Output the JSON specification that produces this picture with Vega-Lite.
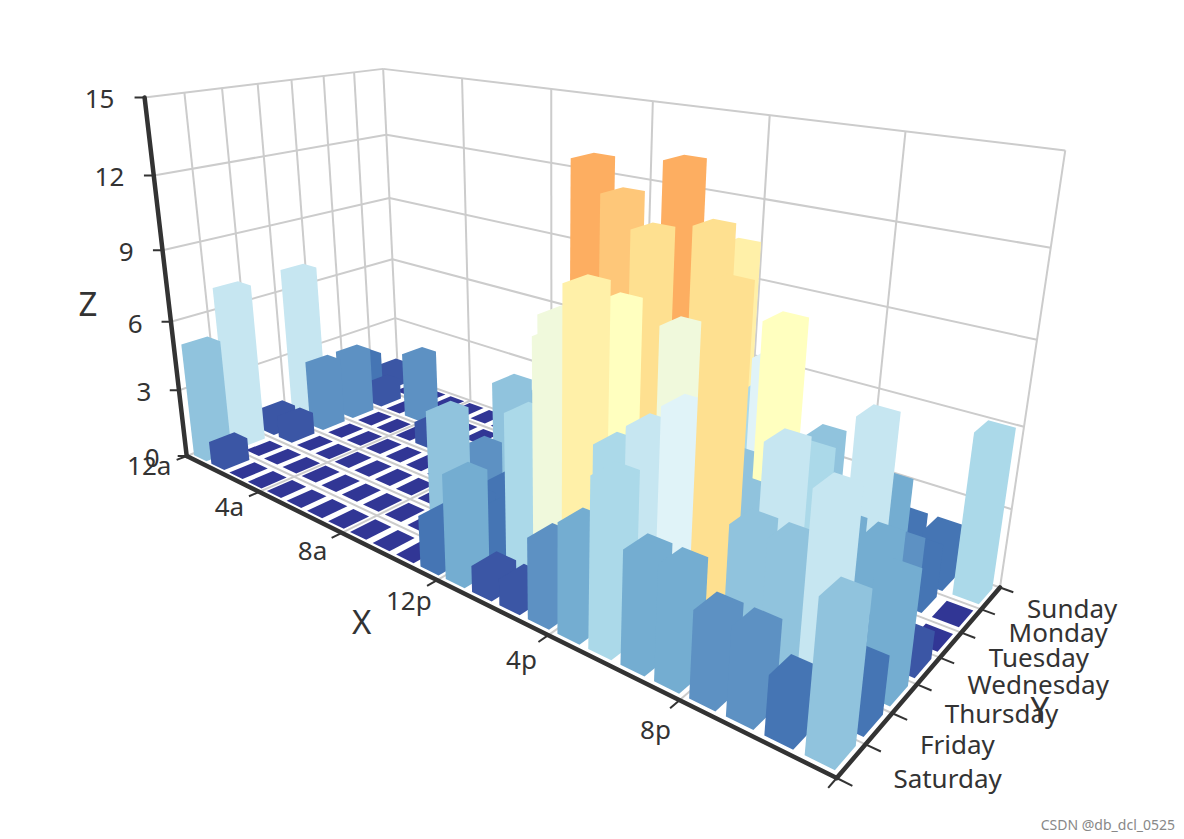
{"$schema":"https://vega.github.io/schema/vega-lite/v6.json","width":1184,"height":839,"padding":0,"autosize":{"type":"none"},"background":"white","config":{"view":{"stroke":null}},"datasets":{"punch":[{"hour":"12a","hourIndex":0,"day":"Sunday","dayIndex":6,"value":1},{"hour":"1a","hourIndex":1,"day":"Sunday","dayIndex":6,"value":0},{"hour":"2a","hourIndex":2,"day":"Sunday","dayIndex":6,"value":0},{"hour":"3a","hourIndex":3,"day":"Sunday","dayIndex":6,"value":0},{"hour":"4a","hourIndex":4,"day":"Sunday","dayIndex":6,"value":0},{"hour":"5a","hourIndex":5,"day":"Sunday","dayIndex":6,"value":0},{"hour":"6a","hourIndex":6,"day":"Sunday","dayIndex":6,"value":0},{"hour":"7a","hourIndex":7,"day":"Sunday","dayIndex":6,"value":0},{"hour":"8a","hourIndex":8,"day":"Sunday","dayIndex":6,"value":0},{"hour":"9a","hourIndex":9,"day":"Sunday","dayIndex":6,"value":0},{"hour":"10a","hourIndex":10,"day":"Sunday","dayIndex":6,"value":1},{"hour":"11a","hourIndex":11,"day":"Sunday","dayIndex":6,"value":0},{"hour":"12p","hourIndex":12,"day":"Sunday","dayIndex":6,"value":2},{"hour":"1p","hourIndex":13,"day":"Sunday","dayIndex":6,"value":1},{"hour":"2p","hourIndex":14,"day":"Sunday","dayIndex":6,"value":3},{"hour":"3p","hourIndex":15,"day":"Sunday","dayIndex":6,"value":4},{"hour":"4p","hourIndex":16,"day":"Sunday","dayIndex":6,"value":0},{"hour":"5p","hourIndex":17,"day":"Sunday","dayIndex":6,"value":0},{"hour":"6p","hourIndex":18,"day":"Sunday","dayIndex":6,"value":0},{"hour":"7p","hourIndex":19,"day":"Sunday","dayIndex":6,"value":0},{"hour":"8p","hourIndex":20,"day":"Sunday","dayIndex":6,"value":1},{"hour":"9p","hourIndex":21,"day":"Sunday","dayIndex":6,"value":2},{"hour":"10p","hourIndex":22,"day":"Sunday","dayIndex":6,"value":2},{"hour":"11p","hourIndex":23,"day":"Sunday","dayIndex":6,"value":6},{"hour":"12a","hourIndex":0,"day":"Monday","dayIndex":5,"value":2},{"hour":"1a","hourIndex":1,"day":"Monday","dayIndex":5,"value":1},{"hour":"2a","hourIndex":2,"day":"Monday","dayIndex":5,"value":0},{"hour":"3a","hourIndex":3,"day":"Monday","dayIndex":5,"value":3},{"hour":"4a","hourIndex":4,"day":"Monday","dayIndex":5,"value":0},{"hour":"5a","hourIndex":5,"day":"Monday","dayIndex":5,"value":0},{"hour":"6a","hourIndex":6,"day":"Monday","dayIndex":5,"value":0},{"hour":"7a","hourIndex":7,"day":"Monday","dayIndex":5,"value":0},{"hour":"8a","hourIndex":8,"day":"Monday","dayIndex":5,"value":2},{"hour":"9a","hourIndex":9,"day":"Monday","dayIndex":5,"value":0},{"hour":"10a","hourIndex":10,"day":"Monday","dayIndex":5,"value":4},{"hour":"11a","hourIndex":11,"day":"Monday","dayIndex":5,"value":1},{"hour":"12p","hourIndex":12,"day":"Monday","dayIndex":5,"value":5},{"hour":"1p","hourIndex":13,"day":"Monday","dayIndex":5,"value":10},{"hour":"2p","hourIndex":14,"day":"Monday","dayIndex":5,"value":5},{"hour":"3p","hourIndex":15,"day":"Monday","dayIndex":5,"value":7},{"hour":"4p","hourIndex":16,"day":"Monday","dayIndex":5,"value":11},{"hour":"5p","hourIndex":17,"day":"Monday","dayIndex":5,"value":6},{"hour":"6p","hourIndex":18,"day":"Monday","dayIndex":5,"value":0},{"hour":"7p","hourIndex":19,"day":"Monday","dayIndex":5,"value":5},{"hour":"8p","hourIndex":20,"day":"Monday","dayIndex":5,"value":3},{"hour":"9p","hourIndex":21,"day":"Monday","dayIndex":5,"value":4},{"hour":"10p","hourIndex":22,"day":"Monday","dayIndex":5,"value":2},{"hour":"11p","hourIndex":23,"day":"Monday","dayIndex":5,"value":0},{"hour":"12a","hourIndex":0,"day":"Tuesday","dayIndex":4,"value":1},{"hour":"1a","hourIndex":1,"day":"Tuesday","dayIndex":4,"value":3},{"hour":"2a","hourIndex":2,"day":"Tuesday","dayIndex":4,"value":0},{"hour":"3a","hourIndex":3,"day":"Tuesday","dayIndex":4,"value":0},{"hour":"4a","hourIndex":4,"day":"Tuesday","dayIndex":4,"value":0},{"hour":"5a","hourIndex":5,"day":"Tuesday","dayIndex":4,"value":1},{"hour":"6a","hourIndex":6,"day":"Tuesday","dayIndex":4,"value":0},{"hour":"7a","hourIndex":7,"day":"Tuesday","dayIndex":4,"value":0},{"hour":"8a","hourIndex":8,"day":"Tuesday","dayIndex":4,"value":0},{"hour":"9a","hourIndex":9,"day":"Tuesday","dayIndex":4,"value":2},{"hour":"10a","hourIndex":10,"day":"Tuesday","dayIndex":4,"value":4},{"hour":"11a","hourIndex":11,"day":"Tuesday","dayIndex":4,"value":4},{"hour":"12p","hourIndex":12,"day":"Tuesday","dayIndex":4,"value":2},{"hour":"1p","hourIndex":13,"day":"Tuesday","dayIndex":4,"value":4},{"hour":"2p","hourIndex":14,"day":"Tuesday","dayIndex":4,"value":4},{"hour":"3p","hourIndex":15,"day":"Tuesday","dayIndex":4,"value":14},{"hour":"4p","hourIndex":16,"day":"Tuesday","dayIndex":4,"value":12},{"hour":"5p","hourIndex":17,"day":"Tuesday","dayIndex":4,"value":1},{"hour":"6p","hourIndex":18,"day":"Tuesday","dayIndex":4,"value":8},{"hour":"7p","hourIndex":19,"day":"Tuesday","dayIndex":4,"value":5},{"hour":"8p","hourIndex":20,"day":"Tuesday","dayIndex":4,"value":3},{"hour":"9p","hourIndex":21,"day":"Tuesday","dayIndex":4,"value":7},{"hour":"10p","hourIndex":22,"day":"Tuesday","dayIndex":4,"value":3},{"hour":"11p","hourIndex":23,"day":"Tuesday","dayIndex":4,"value":0},{"hour":"12a","hourIndex":0,"day":"Wednesday","dayIndex":3,"value":7},{"hour":"1a","hourIndex":1,"day":"Wednesday","dayIndex":3,"value":3},{"hour":"2a","hourIndex":2,"day":"Wednesday","dayIndex":3,"value":0},{"hour":"3a","hourIndex":3,"day":"Wednesday","dayIndex":3,"value":0},{"hour":"4a","hourIndex":4,"day":"Wednesday","dayIndex":3,"value":0},{"hour":"5a","hourIndex":5,"day":"Wednesday","dayIndex":3,"value":0},{"hour":"6a","hourIndex":6,"day":"Wednesday","dayIndex":3,"value":0},{"hour":"7a","hourIndex":7,"day":"Wednesday","dayIndex":3,"value":0},{"hour":"8a","hourIndex":8,"day":"Wednesday","dayIndex":3,"value":1},{"hour":"9a","hourIndex":9,"day":"Wednesday","dayIndex":3,"value":0},{"hour":"10a","hourIndex":10,"day":"Wednesday","dayIndex":3,"value":5},{"hour":"11a","hourIndex":11,"day":"Wednesday","dayIndex":3,"value":4},{"hour":"12p","hourIndex":12,"day":"Wednesday","dayIndex":3,"value":7},{"hour":"1p","hourIndex":13,"day":"Wednesday","dayIndex":3,"value":14},{"hour":"2p","hourIndex":14,"day":"Wednesday","dayIndex":3,"value":13},{"hour":"3p","hourIndex":15,"day":"Wednesday","dayIndex":3,"value":12},{"hour":"4p","hourIndex":16,"day":"Wednesday","dayIndex":3,"value":9},{"hour":"5p","hourIndex":17,"day":"Wednesday","dayIndex":3,"value":5},{"hour":"6p","hourIndex":18,"day":"Wednesday","dayIndex":3,"value":5},{"hour":"7p","hourIndex":19,"day":"Wednesday","dayIndex":3,"value":10},{"hour":"8p","hourIndex":20,"day":"Wednesday","dayIndex":3,"value":6},{"hour":"9p","hourIndex":21,"day":"Wednesday","dayIndex":3,"value":4},{"hour":"10p","hourIndex":22,"day":"Wednesday","dayIndex":3,"value":4},{"hour":"11p","hourIndex":23,"day":"Wednesday","dayIndex":3,"value":1},{"hour":"12a","hourIndex":0,"day":"Thursday","dayIndex":2,"value":1},{"hour":"1a","hourIndex":1,"day":"Thursday","dayIndex":2,"value":1},{"hour":"2a","hourIndex":2,"day":"Thursday","dayIndex":2,"value":0},{"hour":"3a","hourIndex":3,"day":"Thursday","dayIndex":2,"value":0},{"hour":"4a","hourIndex":4,"day":"Thursday","dayIndex":2,"value":0},{"hour":"5a","hourIndex":5,"day":"Thursday","dayIndex":2,"value":0},{"hour":"6a","hourIndex":6,"day":"Thursday","dayIndex":2,"value":0},{"hour":"7a","hourIndex":7,"day":"Thursday","dayIndex":2,"value":0},{"hour":"8a","hourIndex":8,"day":"Thursday","dayIndex":2,"value":0},{"hour":"9a","hourIndex":9,"day":"Thursday","dayIndex":2,"value":0},{"hour":"10a","hourIndex":10,"day":"Thursday","dayIndex":2,"value":3},{"hour":"11a","hourIndex":11,"day":"Thursday","dayIndex":2,"value":2},{"hour":"12p","hourIndex":12,"day":"Thursday","dayIndex":2,"value":1},{"hour":"1p","hourIndex":13,"day":"Thursday","dayIndex":2,"value":9},{"hour":"2p","hourIndex":14,"day":"Thursday","dayIndex":2,"value":8},{"hour":"3p","hourIndex":15,"day":"Thursday","dayIndex":2,"value":10},{"hour":"4p","hourIndex":16,"day":"Thursday","dayIndex":2,"value":6},{"hour":"5p","hourIndex":17,"day":"Thursday","dayIndex":2,"value":5},{"hour":"6p","hourIndex":18,"day":"Thursday","dayIndex":2,"value":5},{"hour":"7p","hourIndex":19,"day":"Thursday","dayIndex":2,"value":5},{"hour":"8p","hourIndex":20,"day":"Thursday","dayIndex":2,"value":7},{"hour":"9p","hourIndex":21,"day":"Thursday","dayIndex":2,"value":4},{"hour":"10p","hourIndex":22,"day":"Thursday","dayIndex":2,"value":2},{"hour":"11p","hourIndex":23,"day":"Thursday","dayIndex":2,"value":4},{"hour":"12a","hourIndex":0,"day":"Friday","dayIndex":1,"value":7},{"hour":"1a","hourIndex":1,"day":"Friday","dayIndex":1,"value":0},{"hour":"2a","hourIndex":2,"day":"Friday","dayIndex":1,"value":0},{"hour":"3a","hourIndex":3,"day":"Friday","dayIndex":1,"value":0},{"hour":"4a","hourIndex":4,"day":"Friday","dayIndex":1,"value":0},{"hour":"5a","hourIndex":5,"day":"Friday","dayIndex":1,"value":0},{"hour":"6a","hourIndex":6,"day":"Friday","dayIndex":1,"value":0},{"hour":"7a","hourIndex":7,"day":"Friday","dayIndex":1,"value":0},{"hour":"8a","hourIndex":8,"day":"Friday","dayIndex":1,"value":0},{"hour":"9a","hourIndex":9,"day":"Friday","dayIndex":1,"value":0},{"hour":"10a","hourIndex":10,"day":"Friday","dayIndex":1,"value":5},{"hour":"11a","hourIndex":11,"day":"Friday","dayIndex":1,"value":2},{"hour":"12p","hourIndex":12,"day":"Friday","dayIndex":1,"value":2},{"hour":"1p","hourIndex":13,"day":"Friday","dayIndex":1,"value":6},{"hour":"2p","hourIndex":14,"day":"Friday","dayIndex":1,"value":9},{"hour":"3p","hourIndex":15,"day":"Friday","dayIndex":1,"value":11},{"hour":"4p","hourIndex":16,"day":"Friday","dayIndex":1,"value":6},{"hour":"5p","hourIndex":17,"day":"Friday","dayIndex":1,"value":7},{"hour":"6p","hourIndex":18,"day":"Friday","dayIndex":1,"value":8},{"hour":"7p","hourIndex":19,"day":"Friday","dayIndex":1,"value":12},{"hour":"8p","hourIndex":20,"day":"Friday","dayIndex":1,"value":5},{"hour":"9p","hourIndex":21,"day":"Friday","dayIndex":1,"value":5},{"hour":"10p","hourIndex":22,"day":"Friday","dayIndex":1,"value":7},{"hour":"11p","hourIndex":23,"day":"Friday","dayIndex":1,"value":2},{"hour":"12a","hourIndex":0,"day":"Saturday","dayIndex":0,"value":5},{"hour":"1a","hourIndex":1,"day":"Saturday","dayIndex":0,"value":1},{"hour":"2a","hourIndex":2,"day":"Saturday","dayIndex":0,"value":0},{"hour":"3a","hourIndex":3,"day":"Saturday","dayIndex":0,"value":0},{"hour":"4a","hourIndex":4,"day":"Saturday","dayIndex":0,"value":0},{"hour":"5a","hourIndex":5,"day":"Saturday","dayIndex":0,"value":0},{"hour":"6a","hourIndex":6,"day":"Saturday","dayIndex":0,"value":0},{"hour":"7a","hourIndex":7,"day":"Saturday","dayIndex":0,"value":0},{"hour":"8a","hourIndex":8,"day":"Saturday","dayIndex":0,"value":0},{"hour":"9a","hourIndex":9,"day":"Saturday","dayIndex":0,"value":0},{"hour":"10a","hourIndex":10,"day":"Saturday","dayIndex":0,"value":0},{"hour":"11a","hourIndex":11,"day":"Saturday","dayIndex":0,"value":2},{"hour":"12p","hourIndex":12,"day":"Saturday","dayIndex":0,"value":4},{"hour":"1p","hourIndex":13,"day":"Saturday","dayIndex":0,"value":1},{"hour":"2p","hourIndex":14,"day":"Saturday","dayIndex":0,"value":1},{"hour":"3p","hourIndex":15,"day":"Saturday","dayIndex":0,"value":3},{"hour":"4p","hourIndex":16,"day":"Saturday","dayIndex":0,"value":4},{"hour":"5p","hourIndex":17,"day":"Saturday","dayIndex":0,"value":6},{"hour":"6p","hourIndex":18,"day":"Saturday","dayIndex":0,"value":4},{"hour":"7p","hourIndex":19,"day":"Saturday","dayIndex":0,"value":4},{"hour":"8p","hourIndex":20,"day":"Saturday","dayIndex":0,"value":3},{"hour":"9p","hourIndex":21,"day":"Saturday","dayIndex":0,"value":3},{"hour":"10p","hourIndex":22,"day":"Saturday","dayIndex":0,"value":2},{"hour":"11p","hourIndex":23,"day":"Saturday","dayIndex":0,"value":5}],"grid":[{"id":"f1","h":[0,0],"d":[0,7],"z":[0,0]},{"id":"f2","h":[4,4],"d":[0,7],"z":[0,0]},{"id":"f3","h":[8,8],"d":[0,7],"z":[0,0]},{"id":"f4","h":[12,12],"d":[0,7],"z":[0,0]},{"id":"f5","h":[16,16],"d":[0,7],"z":[0,0]},{"id":"f6","h":[20,20],"d":[0,7],"z":[0,0]},{"id":"f7","h":[24,24],"d":[0,7],"z":[0,0]},{"id":"g0","h":[0,24],"d":[0,0],"z":[0,0]},{"id":"g1","h":[0,24],"d":[1,1],"z":[0,0]},{"id":"g2","h":[0,24],"d":[2,2],"z":[0,0]},{"id":"g3","h":[0,24],"d":[3,3],"z":[0,0]},{"id":"g4","h":[0,24],"d":[4,4],"z":[0,0]},{"id":"g5","h":[0,24],"d":[5,5],"z":[0,0]},{"id":"g6","h":[0,24],"d":[6,6],"z":[0,0]},{"id":"g7","h":[0,24],"d":[7,7],"z":[0,0]},{"id":"b3","h":[0,24],"d":[7,7],"z":[3,3]},{"id":"b6","h":[0,24],"d":[7,7],"z":[6,6]},{"id":"b9","h":[0,24],"d":[7,7],"z":[9,9]},{"id":"b12","h":[0,24],"d":[7,7],"z":[12,12]},{"id":"b15","h":[0,24],"d":[7,7],"z":[15,15]},{"id":"v0","h":[0,0],"d":[7,7],"z":[0,15]},{"id":"v4","h":[4,4],"d":[7,7],"z":[0,15]},{"id":"v8","h":[8,8],"d":[7,7],"z":[0,15]},{"id":"v12","h":[12,12],"d":[7,7],"z":[0,15]},{"id":"v16","h":[16,16],"d":[7,7],"z":[0,15]},{"id":"v20","h":[20,20],"d":[7,7],"z":[0,15]},{"id":"v24","h":[24,24],"d":[7,7],"z":[0,15]},{"id":"l3","h":[0,0],"d":[0,7],"z":[3,3]},{"id":"l6","h":[0,0],"d":[0,7],"z":[6,6]},{"id":"l9","h":[0,0],"d":[0,7],"z":[9,9]},{"id":"l12","h":[0,0],"d":[0,7],"z":[12,12]},{"id":"l15","h":[0,0],"d":[0,7],"z":[15,15]},{"id":"w0","h":[0,0],"d":[0,0],"z":[0,15]},{"id":"w1","h":[0,0],"d":[1,1],"z":[0,15]},{"id":"w2","h":[0,0],"d":[2,2],"z":[0,15]},{"id":"w3","h":[0,0],"d":[3,3],"z":[0,15]},{"id":"w4","h":[0,0],"d":[4,4],"z":[0,15]},{"id":"w5","h":[0,0],"d":[5,5],"z":[0,15]},{"id":"w6","h":[0,0],"d":[6,6],"z":[0,15]}],"axes":[{"id":"X","h":[0,24],"d":[0,0],"z":[0,0]},{"id":"Y","h":[24,24],"d":[0,7],"z":[0,0]},{"id":"Z","h":[0,0],"d":[0,0],"z":[0,15]}],"ticks":[{"id":"x0","h":[0,0],"d":[0,-0.28],"z":[0,0]},{"id":"x4","h":[4,4],"d":[0,-0.28],"z":[0,0]},{"id":"x8","h":[8,8],"d":[0,-0.28],"z":[0,0]},{"id":"x12","h":[12,12],"d":[0,-0.28],"z":[0,0]},{"id":"x16","h":[16,16],"d":[0,-0.28],"z":[0,0]},{"id":"x20","h":[20,20],"d":[0,-0.28],"z":[0,0]},{"id":"x24","h":[24,24],"d":[0,-0.28],"z":[0,0]},{"id":"y0","h":[24,24.36],"d":[0,0],"z":[0,0]},{"id":"y1","h":[24,24.36],"d":[1,1],"z":[0,0]},{"id":"y2","h":[24,24.36],"d":[2,2],"z":[0,0]},{"id":"y3","h":[24,24.36],"d":[3,3],"z":[0,0]},{"id":"y4","h":[24,24.36],"d":[4,4],"z":[0,0]},{"id":"y5","h":[24,24.36],"d":[5,5],"z":[0,0]},{"id":"y6","h":[24,24.36],"d":[6,6],"z":[0,0]},{"id":"y7","h":[24,24.36],"d":[7,7],"z":[0,0]},{"id":"z0","h":[0,-0.235],"d":[0,-0.141],"z":[0,0]},{"id":"z3","h":[0,-0.235],"d":[0,-0.141],"z":[3,3]},{"id":"z6","h":[0,-0.235],"d":[0,-0.141],"z":[6,6]},{"id":"z9","h":[0,-0.235],"d":[0,-0.141],"z":[9,9]},{"id":"z12","h":[0,-0.235],"d":[0,-0.141],"z":[12,12]},{"id":"z15","h":[0,-0.235],"d":[0,-0.141],"z":[15,15]}]},"layer":[{"data":{"name":"grid"},"transform":[{"flatten":["h","d","z"]},{"calculate":"1-0.373*datum.h/24+0.18091*datum.d/7-0.103*datum.z/15","as":"w"},{"calculate":"(337.91*datum.h/24+283.3*datum.d/7-57*datum.z/15+186.7)/datum.w","as":"px"},{"calculate":"(31.81*datum.h/24-13.16*datum.d/7-368.6*datum.z/15+456)/datum.w","as":"py"}],"mark":{"type":"line","stroke":"#cccccc","strokeWidth":2},"encoding":{"x":{"field":"px","type":"quantitative","scale":{"domain":[0,1184],"range":[0,1184]},"axis":null},"y":{"field":"py","type":"quantitative","scale":{"domain":[0,839],"range":[0,839]},"axis":null},"detail":{"field":"id"}}},{"data":{"name":"punch"},"transform":[{"calculate":"[0,1,2,3,4,5]","as":"k"},{"flatten":["k"]},{"calculate":"datum.hourIndex+0.5+((datum.k==0||datum.k==4||datum.k==5)?-0.36:0.36)","as":"h"},{"calculate":"datum.dayIndex+0.5+((datum.k<=1||datum.k==5)?-0.36:0.36)","as":"d"},{"calculate":"datum.k<=2?0:datum.value","as":"z"},{"calculate":"1-0.373*datum.h/24+0.18091*datum.d/7-0.103*datum.z/15","as":"w"},{"calculate":"(337.91*datum.h/24+283.3*datum.d/7-57*datum.z/15+186.7)/datum.w","as":"px"},{"calculate":"(31.81*datum.h/24-13.16*datum.d/7-368.6*datum.z/15+456)/datum.w","as":"py"}],"mark":{"type":"line","interpolate":"linear-closed","strokeWidth":0},"encoding":{"x":{"field":"px","type":"quantitative","scale":{"domain":[0,1184],"range":[0,1184]},"axis":null},"y":{"field":"py","type":"quantitative","scale":{"domain":[0,839],"range":[0,839]},"axis":null},"detail":[{"field":"hour"},{"field":"day"}],"order":{"field":"k","type":"quantitative"},"fill":{"field":"value","type":"quantitative","legend":null,"scale":{"interpolate":"rgb","domain":[0,2,4,6,8,10,12,14,16,18,20],"range":["#313695","#4575b4","#74add1","#abd9e9","#e0f3f8","#ffffbf","#fee090","#fdae61","#f46d43","#d73027","#a50026"]}}}},{"data":{"name":"ticks"},"transform":[{"flatten":["h","d","z"]},{"calculate":"1-0.373*datum.h/24+0.18091*datum.d/7-0.103*datum.z/15","as":"w"},{"calculate":"(337.91*datum.h/24+283.3*datum.d/7-57*datum.z/15+186.7)/datum.w","as":"px"},{"calculate":"(31.81*datum.h/24-13.16*datum.d/7-368.6*datum.z/15+456)/datum.w","as":"py"}],"mark":{"type":"line","stroke":"#333333","strokeWidth":2},"encoding":{"x":{"field":"px","type":"quantitative","scale":{"domain":[0,1184],"range":[0,1184]},"axis":null},"y":{"field":"py","type":"quantitative","scale":{"domain":[0,839],"range":[0,839]},"axis":null},"detail":{"field":"id"}}},{"data":{"name":"axes"},"transform":[{"flatten":["h","d","z"]},{"calculate":"1-0.373*datum.h/24+0.18091*datum.d/7-0.103*datum.z/15","as":"w"},{"calculate":"(337.91*datum.h/24+283.3*datum.d/7-57*datum.z/15+186.7)/datum.w","as":"px"},{"calculate":"(31.81*datum.h/24-13.16*datum.d/7-368.6*datum.z/15+456)/datum.w","as":"py"}],"mark":{"type":"line","stroke":"#333333","strokeWidth":4.5,"strokeCap":"round"},"encoding":{"x":{"field":"px","type":"quantitative","scale":{"domain":[0,1184],"range":[0,1184]},"axis":null},"y":{"field":"py","type":"quantitative","scale":{"domain":[0,839],"range":[0,839]},"axis":null},"detail":{"field":"id"}}},{"data":{"values":[{"label":"12a","hourTick":0},{"label":"4a","hourTick":4},{"label":"8a","hourTick":8},{"label":"12p","hourTick":12},{"label":"4p","hourTick":16},{"label":"8p","hourTick":20}]},"transform":[{"calculate":"datum.hourTick==0?-0.25:datum.hourTick+0.2","as":"h"},{"calculate":"-0.91","as":"d"},{"calculate":"1-0.373*datum.h/24+0.18091*datum.d/7","as":"w"},{"calculate":"(337.91*datum.h/24+283.3*datum.d/7+186.7)/datum.w","as":"px"},{"calculate":"(31.81*datum.h/24-13.16*datum.d/7+456)/datum.w","as":"py"}],"mark":{"type":"text","font":"Noto Sans","fontSize":26,"color":"#333333","align":"center","baseline":"middle"},"encoding":{"x":{"field":"px","type":"quantitative","scale":{"domain":[0,1184],"range":[0,1184]},"axis":null},"y":{"field":"py","type":"quantitative","scale":{"domain":[0,839],"range":[0,839]},"axis":null},"text":{"field":"label"}}},{"data":{"values":[{"label":"Sunday","d":6.5},{"label":"Monday","d":5.5},{"label":"Tuesday","d":4.5},{"label":"Wednesday","d":3.5},{"label":"Thursday","d":2.5},{"label":"Friday","d":1.5},{"label":"Saturday","d":0.5}]},"transform":[{"calculate":"24.96","as":"h"},{"calculate":"1-0.373*datum.h/24+0.18091*datum.d/7","as":"w"},{"calculate":"(337.91*datum.h/24+283.3*datum.d/7+186.7)/datum.w","as":"px"},{"calculate":"(31.81*datum.h/24-13.16*datum.d/7+456)/datum.w","as":"py"}],"mark":{"type":"text","font":"Noto Sans","fontSize":26,"color":"#333333","align":"left","baseline":"middle","dy":-1},"encoding":{"x":{"field":"px","type":"quantitative","scale":{"domain":[0,1184],"range":[0,1184]},"axis":null},"y":{"field":"py","type":"quantitative","scale":{"domain":[0,839],"range":[0,839]},"axis":null},"text":{"field":"label"}}},{"data":{"values":[{"label":"0","z":0},{"label":"3","z":3},{"label":"6","z":6},{"label":"9","z":9},{"label":"12","z":12},{"label":"15","z":15}]},"transform":[{"calculate":"1-0.373*(-0.705)/24+0.18091*(-0.423)/7-0.103*datum.z/15","as":"w"},{"calculate":"(337.91*(-0.705)/24+283.3*(-0.423)/7-57*datum.z/15+186.7)/datum.w","as":"px"},{"calculate":"(31.81*(-0.705)/24-13.16*(-0.423)/7-368.6*datum.z/15+456)/datum.w","as":"py"}],"mark":{"type":"text","font":"Noto Sans","fontSize":26,"color":"#333333","align":"right","baseline":"middle","dy":3},"encoding":{"x":{"field":"px","type":"quantitative","scale":{"domain":[0,1184],"range":[0,1184]},"axis":null},"y":{"field":"py","type":"quantitative","scale":{"domain":[0,839],"range":[0,839]},"axis":null},"text":{"field":"label"}}},{"data":{"values":[{"label":"X","h":12.2,"d":-2.1,"z":0},{"label":"Y","h":26.64,"d":3.5,"z":0},{"label":"Z","h":-5.3,"d":0,"z":5.25}]},"transform":[{"calculate":"1-0.373*datum.h/24+0.18091*datum.d/7-0.103*datum.z/15","as":"w"},{"calculate":"(337.91*datum.h/24+283.3*datum.d/7-57*datum.z/15+186.7)/datum.w","as":"px"},{"calculate":"(31.81*datum.h/24-13.16*datum.d/7-368.6*datum.z/15+456)/datum.w+(datum.label=='Z'?0:-6)","as":"py"}],"mark":{"type":"text","font":"Noto Sans","fontSize":33,"color":"#333333","align":"center","baseline":"middle"},"encoding":{"x":{"field":"px","type":"quantitative","scale":{"domain":[0,1184],"range":[0,1184]},"axis":null},"y":{"field":"py","type":"quantitative","scale":{"domain":[0,839],"range":[0,839]},"axis":null},"text":{"field":"label"}}},{"data":{"values":[{"label":"CSDN @db_dcl_0525"}]},"mark":{"type":"text","font":"Noto Sans","fontSize":14,"color":"#888888","align":"right","baseline":"middle"},"encoding":{"x":{"datum":1175,"type":"quantitative","scale":{"domain":[0,1184],"range":[0,1184]},"axis":null},"y":{"datum":826,"type":"quantitative","scale":{"domain":[0,839],"range":[0,839]},"axis":null},"text":{"field":"label"}}}]}
